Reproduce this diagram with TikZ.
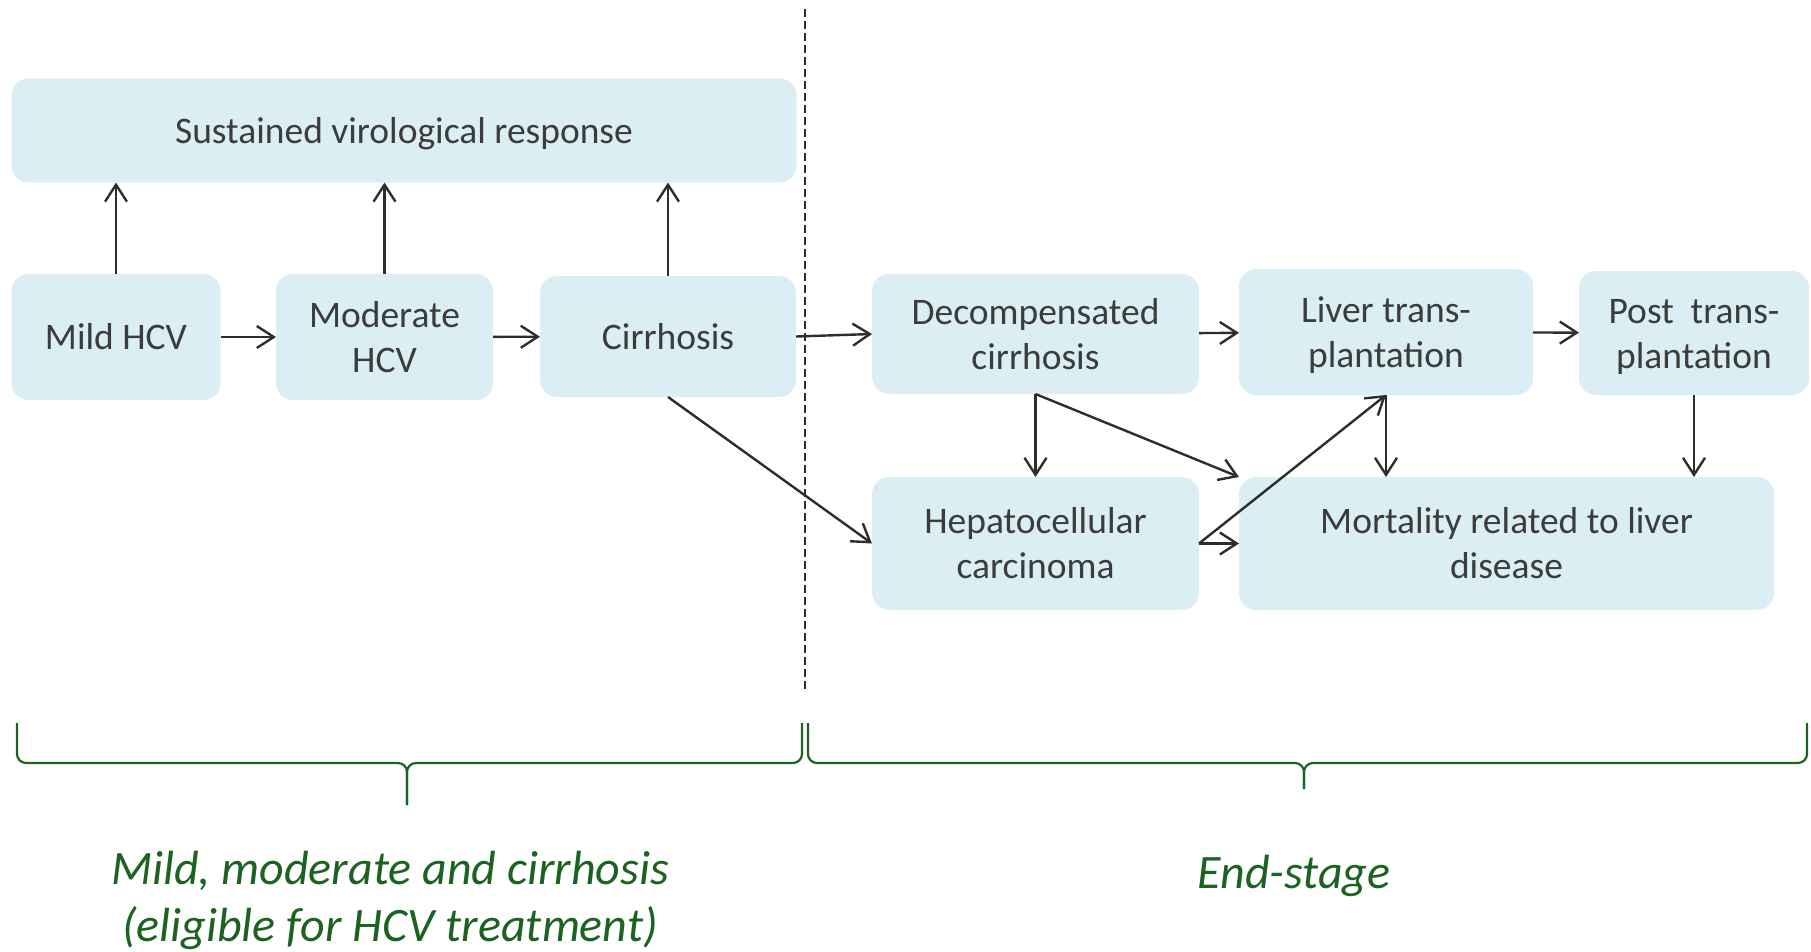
\documentclass[tikz,border=0pt]{standalone}
\usepackage{fontspec}
\setmainfont{Carlito}
\usetikzlibrary{positioning,arrows.meta}
\definecolor{boxblue}{RGB}{219,238,243}
\definecolor{textgrey}{RGB}{60,60,60}
\definecolor{linegrey}{RGB}{45,45,45}
\definecolor{phasegreen}{RGB}{28,98,32}
\tikzset{
hcvpic/.style={
  x=1pt,y=-1pt
    ,line width=2pt
}
,stage/.style={rounded corners=17pt,fill=boxblue
  ,inner sep=0pt,outer sep=0pt
  ,align=center
  ,text height=35pt,text depth=9.4pt
  ,font={\fontsize{37.5}{45}\selectfont\color{textgrey}}
}
,twoline/.style={text height=80pt,text depth=9.4pt}
,flow/.style={draw=linegrey,line width=2.4pt
  ,-{Straight Barb[length=17pt,width=22pt]}}
,divider/.style={draw=linegrey,line width=2pt,dash pattern=on 8pt off 4pt}
,bracer/.style={draw=phasegreen,line width=2.2pt,rounded corners=9pt}
,phase/.style={align=center
  ,font={\fontsize{48}{57}\selectfont\itshape\color{phasegreen}}}
}

\begin{document}
\begin{tikzpicture}[hcvpic]
  \useasboundingbox (0,0) rectangle (1811,951);
  % treatable stages
  \node[stage,minimum width=785pt,minimum height=104pt] (svr) at (404,130.5)
    {Sustained virological response};
  \node[stage,minimum width=209pt,minimum height=126pt] (mild) at (116,337) {Mild HCV};
  \node[stage,twoline,minimum width=217pt,minimum height=126pt] (moderate) at (384.5,337)
    {Moderate\\HCV};
  \node[stage,minimum width=256pt,minimum height=121pt] (cirrhosis) at (668,336.5)
    {Cirrhosis};
  % end stages
  \node[stage,twoline,minimum width=327pt,minimum height=120pt] (decomp) at (1035.5,334)
    {Decompensated\\cirrhosis};
  \node[stage,twoline,minimum width=294pt,minimum height=126pt] (liver) at (1386,332)
    {Liver trans-\\plantation};
  \node[stage,twoline,minimum width=230pt,minimum height=124pt] (post) at (1694,333)
    {Post\ \ trans-\\plantation};
  \node[stage,twoline,minimum width=327pt,minimum height=133pt] (hcc) at (1035.5,543.5)
    {Hepatocellular\\carcinoma};
  \node[stage,twoline,minimum width=535pt,minimum height=133pt] (mortality) at (1506.5,543.5)
    {Mortality related to liver\\disease};
  % arrows
  \draw[flow] (mild) -- (moderate);
  \draw[flow] (moderate) -- (cirrhosis);
  \draw[flow] (cirrhosis.east) -- (decomp.west);
  \draw[flow] (decomp) -- (liver);
  \draw[flow] (liver) -- (post);
  \draw[flow] (mild.north) -- (mild.north |- svr.south);
  \draw[flow] (moderate.north) -- (moderate.north |- svr.south);
  \draw[flow] (cirrhosis.north) -- (cirrhosis.north |- svr.south);
  \draw[flow] (cirrhosis.south) -- (hcc.west);
  \draw[flow] (decomp.south) -- (hcc.north);
  \draw[flow] (decomp.south) -- (mortality.north west);
  \draw[flow] (hcc.east) -- (mortality.west);
  \draw[flow] (hcc.east) -- (liver.south);
  \draw[flow] (liver.south) -- (liver.south |- mortality.north);
  \draw[flow] (post.south) -- (post.south |- mortality.north);
  % divider
  \coordinate (divtop) at (805,9);
  \coordinate (divbot) at (805,690);
  \draw[divider] (divtop) -- (divbot);
  % braces
  \draw[bracer] (17,723) -- (17,763) -- (407,763) -- (407,805);
  \draw[bracer] (802,723) -- (802,763) -- (407,763) -- (407,805);
  \draw[bracer] (808,723) -- (808,763) -- (1304,763) -- (1304,789);
  \draw[bracer] (1807,723) -- (1807,763) -- (1304,763) -- (1304,789);
  \node[phase] (treatlbl) at (390,900)
    {Mild, moderate and cirrhosis\\(eligible for HCV treatment)};
  \node[phase] (endlbl) at (1294,876) {End-stage};
\end{tikzpicture}
\end{document}
